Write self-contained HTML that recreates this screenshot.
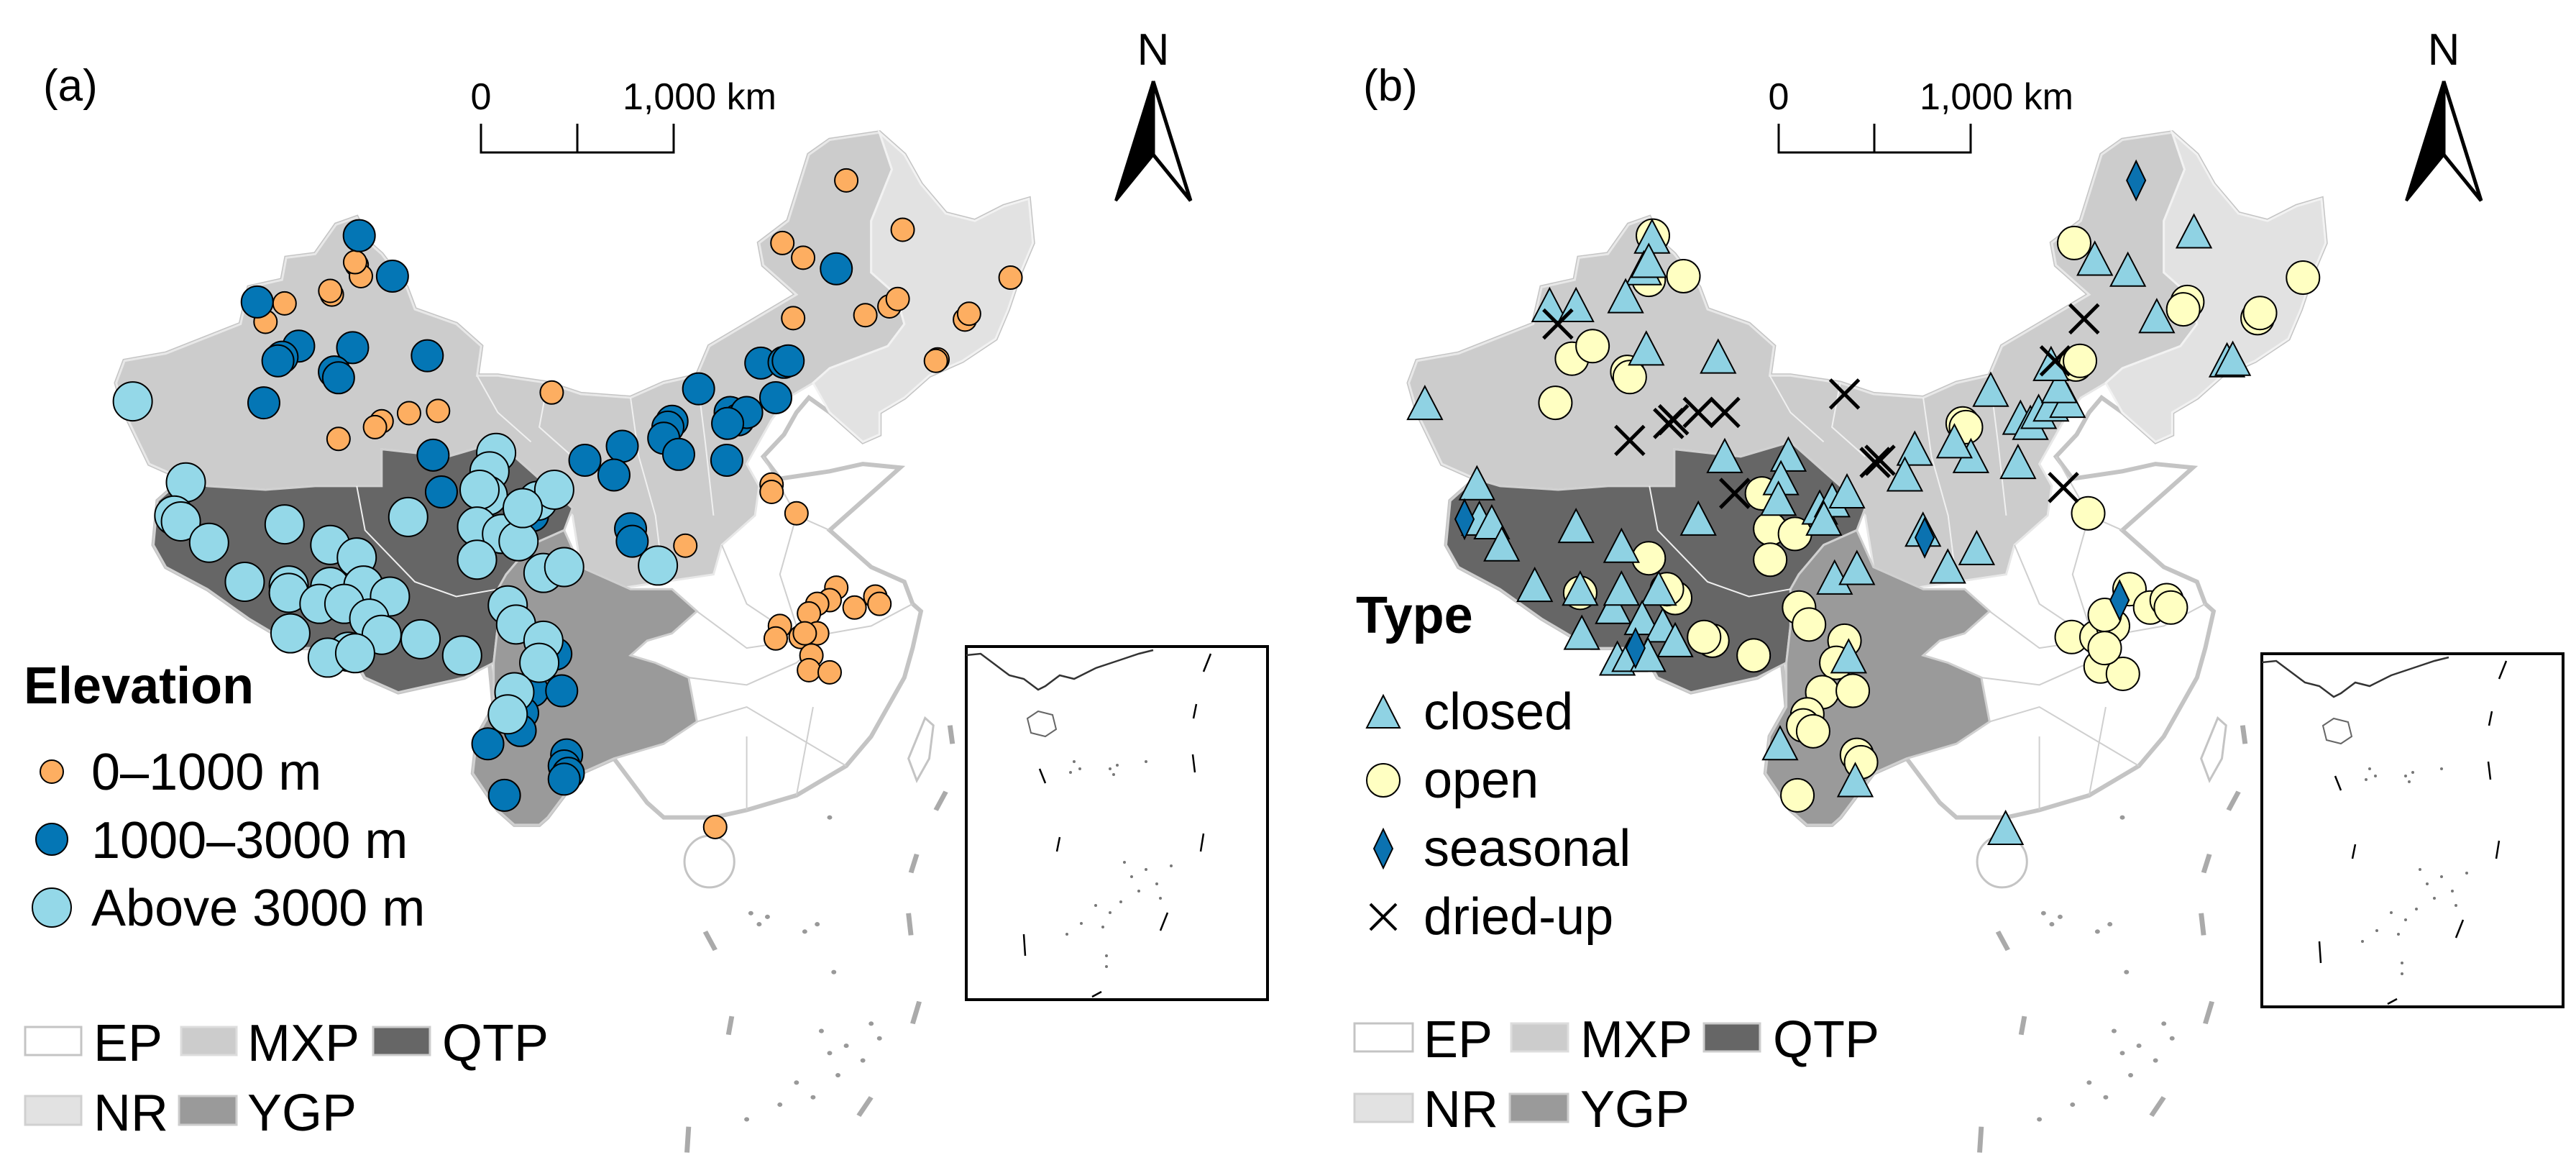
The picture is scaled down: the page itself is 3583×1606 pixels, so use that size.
<!DOCTYPE html>
<html><head><meta charset="utf-8"><style>
html,body{margin:0;padding:0;background:#fff}
svg{display:block}
text{font-family:"Liberation Sans",Arial,sans-serif;fill:#000}
</style></head><body>
<svg id="fig" width="3583" height="1606" viewBox="0 0 3583 1606" xmlns="http://www.w3.org/2000/svg">
<defs>
<g id="mapbase">
 <path fill="#fff" stroke="#c4c4c4" stroke-width="6" vector-effect="non-scaling-stroke" d="M140,520 L150,490 200,480 290,440 300,390 340,380 345,350 380,345 405,305 430,295 445,330 460,345 490,390 500,420 550,440 580,470 575,510 600,510 660,520 700,535 760,540 800,520 840,510 855,470 900,440 930,420 960,400 920,360 915,330 950,300 975,210 1000,190 1060,180 1090,210 1110,250 1140,290 1175,300 1210,280 1240,270 1245,330 1230,370 1215,420 1200,460 1160,490 1120,510 1090,540 1060,560 1060,590 1040,600 1000,560 975,540 960,560 945,590 920,620 940,650 1000,640 1040,630 1085,635 1060,660 1020,700 1000,720 1050,770 1090,790 1100,820 1110,830 1100,880 1090,920 1070,960 1050,1000 1020,1040 960,1080 900,1100 860,1110 800,1110 780,1090 740,1030 700,1050 680,1080 660,1110 650,1120 620,1120 600,1100 570,1050 575,1000 595,960 590,900 560,920 480,940 440,920 420,880 360,880 300,840 250,800 200,770 185,740 190,680 220,650 180,630 150,560 Z"/>
 <path fill="#cccccc" stroke="#e8e8e8" stroke-width="3" vector-effect="non-scaling-stroke" d="M140,520 L150,490 200,480 290,440 300,390 340,380 345,350 380,345 405,305 430,295 445,330 460,345 490,390 500,420 550,440 580,470 575,510 600,510 660,520 700,535 760,540 800,520 840,510 855,470 900,440 930,420 960,400 920,360 915,330 950,300 975,210 1000,190 1060,180 1075,230 1050,300 1050,370 1080,400 1090,440 1070,470 1000,500 980,520 950,540 930,570 915,600 900,630 915,660 910,700 870,740 860,780 800,790 740,800 700,770 690,700 640,640 600,600 540,620 460,610 460,660 380,660 320,665 250,660 220,650 180,630 150,560 Z"/>
 <path fill="#e2e2e2" stroke="#f2f2f2" stroke-width="3" vector-effect="non-scaling-stroke" d="M1060,180 L1090,210 1110,250 1140,290 1175,300 1210,280 1240,270 1245,330 1230,370 1215,420 1200,460 1160,490 1120,510 1090,540 1060,560 1060,590 1040,600 1000,560 980,520 1000,500 1070,470 1090,440 1080,400 1050,370 1050,300 1075,230 Z"/>
 <path fill="#666666" stroke="#d0d0d0" stroke-width="3" vector-effect="non-scaling-stroke" d="M190,680 L220,650 250,660 320,665 380,660 460,660 460,610 540,620 600,600 640,640 690,690 680,720 640,740 610,780 600,800 600,850 595,900 560,920 480,940 440,920 420,880 360,880 300,840 250,800 200,770 185,740 Z"/>
 <path fill="#9a9a9a" stroke="#d0d0d0" stroke-width="3" vector-effect="non-scaling-stroke" d="M600,800 L610,780 640,740 680,720 700,770 760,800 810,800 840,830 810,860 780,870 760,890 790,900 830,920 840,980 800,1010 740,1030 700,1050 680,1080 660,1110 650,1120 620,1120 600,1100 570,1050 575,1000 595,960 595,900 600,850 Z"/>
 <path fill="none" stroke="#cfcfcf" stroke-width="2" vector-effect="non-scaling-stroke" d="M920,620 L960,700 1000,720 M960,700 L940,780 960,850 1000,860 1050,850 1100,820 M870,740 L900,820 940,850 M840,830 L900,880 960,870 M830,920 L900,930 960,900 1000,860 M840,980 L900,960 960,1000 1020,1040 M900,1100 L900,1000 M960,1080 L980,960"/>
 <path fill="none" stroke="#f0f0f0" stroke-width="2" vector-effect="non-scaling-stroke" d="M575,510 L600,560 640,600 M660,520 L650,580 690,620 M760,540 L770,620 790,700 800,790 M840,510 L850,600 860,700 M430,660 L440,720 500,790 550,810 600,800"/>
 <ellipse cx="855" cy="1170" rx="30" ry="35" fill="#fff" stroke="#c4c4c4" stroke-width="3" vector-effect="non-scaling-stroke"/>
 <path d="M1115,975 L1125,985 1120,1030 1105,1060 1095,1030 Z" fill="#fff" stroke="#c4c4c4" stroke-width="3" vector-effect="non-scaling-stroke"/>
 <g stroke="#aaa" stroke-width="6" vector-effect="non-scaling-stroke" fill="none">
  <path d="M1145,985 L1148,1010 M1140,1075 L1128,1100 M1105,1160 L1098,1185 M1095,1240 L1098,1270 M1108,1360 L1100,1390 M1050,1490 L1035,1515 M850,1265 L862,1290 M882,1380 L878,1405 M830,1530 L828,1565"/>
 </g>
 <g fill="#999">
  <circle cx="905" cy="1240" r="3"/><circle cx="915" cy="1255" r="3"/><circle cx="925" cy="1245" r="3"/><circle cx="970" cy="1265" r="3"/><circle cx="985" cy="1255" r="3"/><circle cx="1000" cy="1110" r="3"/><circle cx="990" cy="1400" r="3"/><circle cx="1000" cy="1430" r="3"/><circle cx="1020" cy="1420" r="3"/><circle cx="960" cy="1470" r="3"/><circle cx="1040" cy="1440" r="3"/><circle cx="1050" cy="1390" r="3"/><circle cx="940" cy="1500" r="3"/><circle cx="980" cy="1490" r="3"/><circle cx="1010" cy="1460" r="3"/><circle cx="900" cy="1520" r="3"/><circle cx="1060" cy="1410" r="3"/><circle cx="1005" cy="1320" r="3"/>
 </g>
</g>
<g id="inset">
 <rect x="0" y="0" width="419" height="491" fill="#fff" stroke="#000" stroke-width="4"/>
 <path d="M0,12 L20,10 40,25 60,40 80,45 100,60 110,55 130,40 150,45 180,30 210,20 240,10 260,5" fill="none" stroke="#333" stroke-width="2.5"/>
 <path d="M85,100 L100,90 120,95 125,115 110,125 90,120 Z" fill="#fff" stroke="#666" stroke-width="2"/>
 <path d="M340,10 L330,35 M320,80 L316,100 M315,150 L318,175 M102,170 L110,190 M130,265 L126,285 M330,260 L326,285 M280,370 L270,395 M80,400 L82,430 M188,480 L175,487" stroke="#000" stroke-width="2.5" fill="none"/>
 <g fill="#777"><circle cx="150" cy="160" r="2"/><circle cx="158" cy="170" r="2"/><circle cx="145" cy="175" r="2"/><circle cx="200" cy="170" r="2"/><circle cx="210" cy="165" r="2"/><circle cx="205" cy="178" r="2"/><circle cx="250" cy="160" r="2"/><circle cx="220" cy="300" r="2"/><circle cx="230" cy="320" r="2"/><circle cx="240" cy="340" r="2"/><circle cx="215" cy="355" r="2"/><circle cx="200" cy="370" r="2"/><circle cx="190" cy="390" r="2"/><circle cx="250" cy="310" r="2"/><circle cx="265" cy="330" r="2"/><circle cx="270" cy="350" r="2"/><circle cx="180" cy="360" r="2"/><circle cx="160" cy="385" r="2"/><circle cx="140" cy="400" r="2"/><circle cx="195" cy="430" r="2"/><circle cx="195" cy="445" r="2"/><circle cx="285" cy="305" r="2"/></g>
</g>
<g id="narrow">
 <polygon points="0,0 -52,166 0,102" fill="#000" stroke="#000" stroke-width="4"/>
 <polygon points="0,0 52,166 0,102" fill="#fff" stroke="#000" stroke-width="5"/>
</g>
</defs>

<!-- Panel a -->
<g transform="matrix(1.154,0,0,1.024,0,0)"><use href="#mapbase"/></g>
<g transform="matrix(1.154,0,0,1.024,1798,0)"><use href="#mapbase"/></g>
<g transform="translate(1344,899)"><use href="#inset"/></g>
<g transform="translate(3146,909)"><use href="#inset"/></g>
<g id="marksA"></g>
<g id="marksB"></g>

<text x="60" y="140" font-size="62">(a)</text>
<text x="1896" y="140" font-size="62">(b)</text>

<g>
 <path d="M669,172 V212 H937 V172 M803,172 V212" fill="none" stroke="#000" stroke-width="3"/>
 <text x="669" y="152" font-size="52" text-anchor="middle">0</text>
 <text x="866" y="152" font-size="52">1,000 km</text>
</g>
<g>
 <path d="M2474,172 V212 H2741 V172 M2607,172 V212" fill="none" stroke="#000" stroke-width="3"/>
 <text x="2474" y="152" font-size="52" text-anchor="middle">0</text>
 <text x="2670" y="152" font-size="52">1,000 km</text>
</g>
<g>
 <text x="1604" y="90" font-size="62" text-anchor="middle">N</text>
 <use href="#narrow" transform="translate(1604,113)"/>
</g>
<g>
 <text x="3399" y="90" font-size="62" text-anchor="middle">N</text>
 <use href="#narrow" transform="translate(3399,113)"/>
</g>

<g>
 <text x="33" y="978" font-size="72" font-weight="bold">Elevation</text>
 <circle cx="72" cy="1073" r="16" fill="#fdae61" stroke="#000" stroke-width="2"/>
 <text x="127" y="1098" font-size="72">0–1000 m</text>
 <circle cx="72" cy="1167" r="22" fill="#0476b5" stroke="#000" stroke-width="2"/>
 <text x="127" y="1193" font-size="72">1000–3000 m</text>
 <circle cx="72" cy="1262" r="27" fill="#94d8e8" stroke="#000" stroke-width="2"/>
 <text x="127" y="1287" font-size="72">Above 3000 m</text>
</g>
<g>
 <text x="1886" y="880" font-size="72" font-weight="bold">Type</text>
 <polygon points="1924,967 1947,1012 1901,1012" fill="#8fd2e3" stroke="#000" stroke-width="2"/>
 <text x="1980" y="1014" font-size="72">closed</text>
 <circle cx="1924" cy="1085" r="23" fill="#ffffc2" stroke="#000" stroke-width="2"/>
 <text x="1980" y="1109" font-size="72">open</text>
 <polygon points="1924,1153 1937,1180 1924,1207 1911,1180" fill="#0b72b0" stroke="#000" stroke-width="2"/>
 <text x="1980" y="1204" font-size="72">seasonal</text>
 <path d="M1906,1257 L1942,1293 M1942,1257 L1906,1293" stroke="#000" stroke-width="4"/>
 <text x="1980" y="1299" font-size="72">dried-up</text>
</g>

<g font-size="72">
 <rect x="35" y="1428" width="78" height="39" fill="#fff" stroke="#c4c4c4" stroke-width="3"/><text x="130" y="1475">EP</text>
 <rect x="252" y="1428" width="77" height="39" fill="#cccccc" stroke="#ddd" stroke-width="3"/><text x="344" y="1475">MXP</text>
 <rect x="519" y="1428" width="79" height="39" fill="#666" stroke="#ccc" stroke-width="3"/><text x="615" y="1475">QTP</text>
 <rect x="35" y="1524" width="78" height="40" fill="#e2e2e2" stroke="#d0d0d0" stroke-width="3"/><text x="130" y="1572">NR</text>
 <rect x="249" y="1524" width="80" height="40" fill="#9a9a9a" stroke="#ccc" stroke-width="3"/><text x="344" y="1572">YGP</text>
</g>
<g font-size="72">
 <rect x="1884" y="1423" width="81" height="39" fill="#fff" stroke="#c4c4c4" stroke-width="3"/><text x="1980" y="1470">EP</text>
 <rect x="2102" y="1423" width="79" height="39" fill="#cccccc" stroke="#ddd" stroke-width="3"/><text x="2198" y="1470">MXP</text>
 <rect x="2370" y="1423" width="78" height="39" fill="#666" stroke="#ccc" stroke-width="3"/><text x="2466" y="1470">QTP</text>
 <rect x="1884" y="1521" width="81" height="39" fill="#e2e2e2" stroke="#d0d0d0" stroke-width="3"/><text x="1980" y="1567">NR</text>
 <rect x="2100" y="1521" width="81" height="39" fill="#9a9a9a" stroke="#ccc" stroke-width="3"/><text x="2198" y="1567">YGP</text>
</g>

<script>
// Panel (a) site positions (map grid units) by elevation class
const lowX=[1020,943,968,1088,1218,956,1043,1072,1082,1163,1168,1130,1128,430,435,428,400,398,343,313,320,665,528,493,460,452,408,930,930,960,826,1008,1000,985,975,1030,1055,1060,940,935,965,985,970,978,975,1000,862];
const lowY=[245,330,350,312,377,432,428,416,406,434,426,488,490,360,375,356,400,395,412,412,437,533,558,561,572,580,596,658,668,697,741,798,815,820,833,825,810,820,850,867,865,860,860,890,910,913,1123];
const midX=[433,473,310,1008,360,340,335,425,515,403,408,318,917,945,950,935,842,880,890,900,877,810,805,800,818,876,750,705,740,522,532,642,760,762,670,642,677,630,627,588,608,683,680,685,680];
const midY=[320,375,410,365,470,485,490,472,483,505,513,547,493,492,490,540,528,560,570,560,575,572,580,595,617,625,606,625,645,618,668,700,718,735,888,938,938,968,992,1010,1080,1025,1040,1050,1058];
const highX=[160,224,210,218,252,343,398,430,295,348,348,398,438,470,350,385,415,445,460,420,395,428,507,557,492,598,590,588,578,575,605,625,648,668,630,575,612,622,655,680,655,650,620,612,793];
const highY=[545,655,700,708,737,712,740,757,790,795,805,797,795,810,860,820,820,840,862,885,893,887,868,890,702,615,640,673,665,715,725,735,680,665,690,760,822,848,778,770,870,900,940,970,768];
// Panel (b) site positions by lake type
const closedX=[442,432,438,318,350,410,435,522,167,230,233,248,260,350,405,300,355,395,405,450,357,430,455,470,400,415,437,530,607,598,595,498,645,660,650,678,663,690,680,597,688,760,748,828,808,835,800,770,852,888,900,910,925,945,935,925,885,978,1018,1098,1053,1138,1145,870];
const closedY=[322,365,355,415,415,403,474,485,548,657,705,710,740,715,742,795,800,825,800,800,860,840,850,870,895,890,890,620,618,650,678,705,690,680,705,668,785,772,892,1010,1060,610,645,620,600,745,770,720,530,568,575,560,550,545,525,495,628,352,367,315,430,490,488,1125];
const openX=[443,480,438,345,370,412,415,325,953,1090,1085,1175,1178,1230,955,960,818,822,585,615,585,438,355,470,460,515,505,565,620,632,675,665,648,685,630,625,637,690,695,618,970,950,980,1000,985,1012,990,1020,1045,1065,1070,990,575];
const openY=[320,375,380,487,470,505,512,547,330,410,420,432,425,377,495,490,575,580,718,725,760,758,805,812,800,870,865,890,825,848,870,900,940,938,970,985,993,1025,1035,1080,697,865,865,850,905,915,835,800,825,815,825,880,670];
const seasonalX=[1028,215,772,422,1008];
const seasonalY=[245,705,730,880,815];
const driedX=[328,965,675,415,462,468,498,530,542,712,718,940,930];
const driedY=[440,433,535,598,575,570,560,560,670,628,625,662,490];

const NS='http://www.w3.org/2000/svg';
const gA=document.getElementById('marksA'), gB=document.getElementById('marksB');
function ax(v){return v*1.154;} function ay(v){return v*1.024;}
function bx(v){return 1790+v*1.149;} function by(v){return v*1.024;}
function circ(g,x,y,r,fill,name){
  const c=document.createElementNS(NS,'circle');
  c.setAttribute('cx',x);c.setAttribute('cy',y);c.setAttribute('r',r);
  c.setAttribute('fill',fill);c.setAttribute('stroke','#000');c.setAttribute('stroke-width','2');
  
  
  g.appendChild(c);
}
lowX.forEach((v,i)=>circ(gA,ax(v),ay(lowY[i]),16,'#fdae61','site-low-elevation'));
midX.forEach((v,i)=>circ(gA,ax(v),ay(midY[i]),22,'#0476b5','site-mid-elevation'));
highX.forEach((v,i)=>circ(gA,ax(v),ay(highY[i]),27,'#94d8e8','site-high-elevation'));

openX.forEach((v,i)=>circ(gB,bx(v),by(openY[i]),23,'#ffffc2','lake-open'));
closedX.forEach((v,i)=>{
  const x=bx(v),y=by(closedY[i]);
  const p=document.createElementNS(NS,'polygon');
  p.setAttribute('points',`${x},${y-24} ${x+24},${y+22} ${x-24},${y+22}`);
  p.setAttribute('fill','#8fd2e3');p.setAttribute('stroke','#000');p.setAttribute('stroke-width','2');
  
  
  gB.appendChild(p);
});
seasonalX.forEach((v,i)=>{
  const x=bx(v),y=by(seasonalY[i]);
  const p=document.createElementNS(NS,'polygon');
  p.setAttribute('points',`${x},${y-27} ${x+13},${y} ${x},${y+27} ${x-13},${y}`);
  p.setAttribute('fill','#0b72b0');p.setAttribute('stroke','#000');p.setAttribute('stroke-width','2');
  
  
  gB.appendChild(p);
});
driedX.forEach((v,i)=>{
  const x=bx(v),y=by(driedY[i]);
  const p=document.createElementNS(NS,'path');
  p.setAttribute('d',`M${x-20},${y-20} L${x+20},${y+20} M${x+20},${y-20} L${x-20},${y+20}`);
  p.setAttribute('stroke','#000');p.setAttribute('stroke-width','5');
  
  
  gB.appendChild(p);
});
</script>
</svg>
</body></html>
